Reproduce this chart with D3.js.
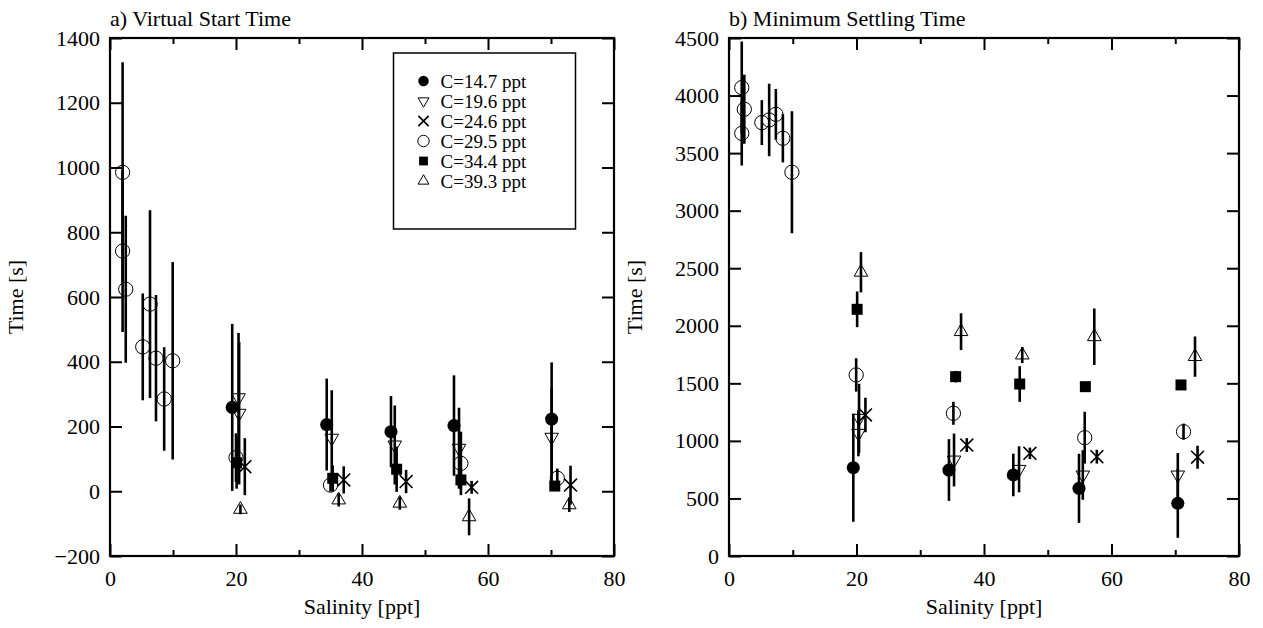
<!DOCTYPE html>
<html>
<head>
<meta charset="utf-8">
<script src="https://cdn.jsdelivr.net/npm/d3@7"></script>
<style>
  body { margin: 0; background: #fff; }
  #chart text { font-family: "Liberation Serif", "Times New Roman", serif !important; }
</style>
</head>
<body>
<svg id="chart" width="1263" height="628"></svg>
<script>
// legend labels, one per series
const seriesNames = ['C=14.7 ppt', 'C=19.6 ppt', 'C=24.6 ppt', 'C=29.5 ppt', 'C=34.4 ppt', 'C=39.3 ppt'];
const seriesShapes = ['dot', 'triDown', 'cross', 'ring', 'square', 'triUp'];

// [salinity ppt, time s, error s]  -- a) virtual start time
const startC147 = [[19.4, 259, 258], [34.4, 206, 142], [44.6, 184, 110], [54.6, 203, 155], [70.1, 223, 175]];
const startC196 = [[20.4, 289, 200], [20.5, 241, 220], [35.2, 164, 148], [45.2, 143, 122], [55.4, 133, 125], [70.1, 167, 150]];
const startC246 = [[21.4, 76, 88], [37.1, 35, 42], [47.0, 30, 36], [57.4, 12, 20], [73.1, 19, 60]];
const startC295 = [[2.0, 985, 340], [2.0, 742, 250], [2.5, 624, 227], [5.2, 446, 165], [6.35, 578, 290], [7.3, 411, 195],
                   [8.6, 285, 160], [9.95, 403, 305], [20.0, 104, 75], [35.0, 19, 20], [55.7, 86, 98], [71.0, 40, 30]];
const startC344 = [[20.1, 88, 80], [35.35, 40, 40], [45.5, 68, 70], [55.7, 35, 30], [70.6, 16, 15]];
const startC393 = [[20.7, -56, 15], [36.3, -27, 20], [46.0, -37, 20], [57.0, -79, 57], [72.9, -42, 22]];

// b) minimum settling time
const settleC147 = [[19.5, 767, 470], [34.5, 747, 268], [44.6, 704, 185], [54.9, 588, 300], [70.4, 458, 300]];
const settleC196 = [[20.4, 1196, 300], [20.3, 1066, 200], [35.3, 834, 230], [45.5, 753, 200], [55.5, 704, 215], [70.4, 704, 190]];
const settleC246 = [[21.4, 1225, 150], [37.3, 964, 60], [47.2, 892, 50], [57.7, 863, 60], [73.5, 858, 100]];
const settleC295 = [[2.0, 4069, 400], [2.4, 3881, 300], [2.0, 3672, 280], [5.15, 3765, 195], [6.3, 3788, 315], [7.35, 3837, 220],
                    [8.45, 3629, 210], [9.87, 3334, 530], [19.95, 1573, 145], [35.2, 1240, 100], [55.8, 1028, 225], [71.3, 1080, 70]];
const settleC344 = [[20.1, 2143, 155], [35.55, 1558, 50], [45.6, 1494, 155], [55.9, 1471, 40], [70.9, 1486, 40]];
const settleC393 = [[20.7, 2465, 175], [36.4, 1949, 160], [46.0, 1746, 70], [57.3, 1905, 245], [73.1, 1732, 175]];

const xTicks = [0, 20, 40, 60, 80];
const xMinorTicks = [10, 30, 50, 70];
const startYTicks = [-200, 0, 200, 400, 600, 800, 1000, 1200, 1400];
const settleYTicks = [0, 500, 1000, 1500, 2000, 2500, 3000, 3500, 4000, 4500];

const svg = d3.select('#chart');

function marker(sel, shape, k = 1) {
    const sym = {
        dot: [d3.symbolCircle, 135], ring: [d3.symbolCircle, 160], square: [d3.symbolSquare, 121],
        triUp: [d3.symbolTriangle, 80], triDown: [d3.symbolTriangle, 80], cross: [d3.symbolTimes || d3.symbolX, 110]
    }[shape];
    sel.attr('d', d3.symbol().type(sym[0]).size(sym[1] * k * k)())
        .attr('fill', (shape === 'dot' || shape === 'square') ? '#000' : 'none')
        .attr('stroke', '#000')
        .attr('stroke-width', (shape === 'dot' || shape === 'square') ? 0 : (shape === 'cross' ? 1.6 : 1));
    if (shape === 'triDown') sel.attr('transform', function() { return d3.select(this).attr('transform') + ' rotate(180)'; });
}

function panel(opts) {
    const {left, top, width, height, yDomain, yTicks, series, title, legend} = opts;
    const x = d3.scaleLinear().domain([0, 80]).range([0, width]);
    const y = d3.scaleLinear().domain(yDomain).range([height, 0]);
    const g = svg.append('g').attr('transform', `translate(${left},${top})`);
    const clipId = 'clip' + left;
    g.append('clipPath').attr('id', clipId).append('rect').attr('width', width).attr('height', height);

    const styleAxis = a => {
        a.select('.domain').remove();
        a.selectAll('.tick line').attr('stroke-width', 2);
        a.selectAll('.tick text').attr('font-size', 22);
    };
    g.append('g').call(d3.axisLeft(y).tickValues(yTicks).tickSize(-12).tickPadding(10)
        .tickFormat(d => d < 0 ? '\u2212' + Math.abs(d) : d)).call(styleAxis);
    g.append('g').attr('transform', `translate(${width},0)`)
        .call(d3.axisRight(y).tickValues(yTicks).tickSize(-12).tickFormat('')).call(styleAxis);
    g.append('g').attr('transform', `translate(0,${height})`)
        .call(d3.axisBottom(x).tickValues(xTicks).tickSize(-12).tickPadding(14)).call(styleAxis);
    g.append('g').attr('transform', `translate(0,${height})`)
        .call(d3.axisBottom(x).tickValues(xMinorTicks).tickSize(-6).tickFormat('')).call(styleAxis);
    g.append('g').call(d3.axisTop(x).tickValues(xTicks).tickSize(-12).tickFormat('')).call(styleAxis);
    g.append('g').call(d3.axisTop(x).tickValues(xMinorTicks).tickSize(-6).tickFormat('')).call(styleAxis);
    g.append('rect').attr('width', width).attr('height', height)
        .attr('fill', 'none').attr('stroke', '#000').attr('stroke-width', 2.2);

    const plot = g.append('g').attr('clip-path', `url(#${clipId})`);
    series.forEach(pts => {
        plot.selectAll(null).data(pts).join('line')
            .attr('x1', d => x(d[0])).attr('x2', d => x(d[0]))
            .attr('y1', d => y(d[1] - d[2])).attr('y2', d => y(d[1] + d[2]))
            .attr('stroke', '#000').attr('stroke-width', 2.6);
    });
    series.forEach((pts, i) => {
        plot.selectAll(null).data(pts).join('path')
            .attr('transform', d => `translate(${x(d[0])},${y(d[1])})`)
            .call(marker, seriesShapes[i]);
    });

    g.append('text').attr('x', 0).attr('y', -12).attr('font-size', 22).text(title);
    g.append('text').attr('x', width / 2).attr('y', height + 58).attr('text-anchor', 'middle')
        .attr('font-size', 22).text('Salinity [ppt]');
    g.append('text').attr('transform', `translate(${-87},${height / 2}) rotate(-90)`)
        .attr('text-anchor', 'middle').attr('font-size', 22).text('Time [s]');

    if (legend) {
        const lg = g.append('g').attr('transform', `translate(${x(45)},${15})`);
        lg.append('rect').attr('width', 182).attr('height', 176)
            .attr('fill', '#fff').attr('stroke', '#000').attr('stroke-width', 1.5);
        seriesNames.forEach((name, i) => {
            const row = lg.append('g').attr('transform', `translate(0,${28 + i * 20})`);
            row.append('path').attr('transform', 'translate(30,0)').call(marker, seriesShapes[i], 0.8);
            row.append('text').attr('x', 47).attr('dy', '0.35em').attr('font-size', 19).text(name);
        });
    }
}

panel({left: 110, top: 38, width: 504, height: 518, yDomain: [-200, 1400], yTicks: startYTicks,
    series: [startC147, startC196, startC246, startC295, startC344, startC393],
    title: 'a) Virtual Start Time', legend: true});
panel({left: 729, top: 38, width: 510, height: 518, yDomain: [0, 4500], yTicks: settleYTicks,
    series: [settleC147, settleC196, settleC246, settleC295, settleC344, settleC393],
    title: 'b) Minimum Settling Time', legend: false});
</script>
</body>
</html>
